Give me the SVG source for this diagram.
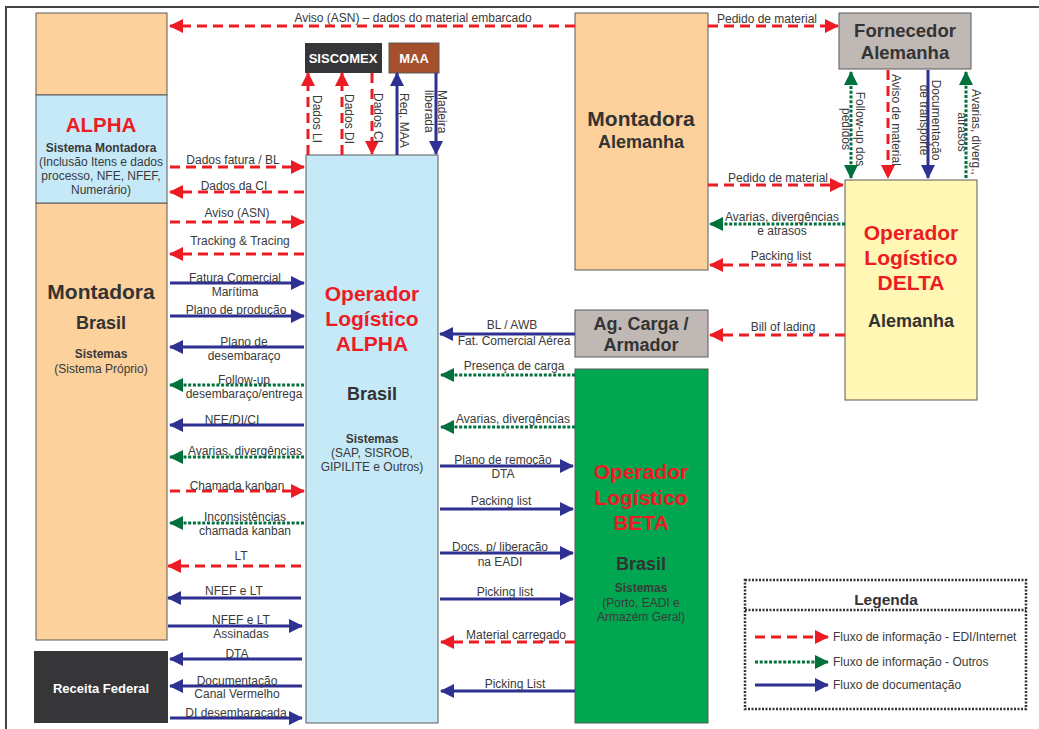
<svg xmlns="http://www.w3.org/2000/svg" width="1039" height="729" viewBox="0 0 1039 729">
<defs>
<style>
.lbl{font-family:"Liberation Sans",Arial,sans-serif;font-size:12px;fill:#3a3a3a;text-anchor:middle}
.vl{font-family:"Liberation Sans",Arial,sans-serif;font-size:12px;fill:#3a3a3a}
.box{stroke:#5a5a5a;stroke-width:1}
.t{font-family:"Liberation Sans",Arial,sans-serif;font-weight:bold;text-anchor:middle;fill:#333}
.red{fill:#ed1c24}
.wt{fill:#fff}
.sm{font-family:"Liberation Sans",Arial,sans-serif;font-size:12px;text-anchor:middle;fill:#3a3a3a}
.smb{font-family:"Liberation Sans",Arial,sans-serif;font-size:12px;font-weight:bold;text-anchor:middle;fill:#3a3a3a}
.r{stroke:#ed1c24;stroke-width:3;stroke-dasharray:10 6;fill:none;marker-end:url(#ar)}
.g{stroke:#00703c;stroke-width:3;stroke-dasharray:3 1.7;fill:none;marker-end:url(#ag)}
.b{stroke:#2e3192;stroke-width:3;fill:none;marker-end:url(#ab)}
</style>
<marker id="ar" viewBox="0 0 14 14" refX="13" refY="7" markerWidth="14" markerHeight="14" markerUnits="userSpaceOnUse" orient="auto-start-reverse"><path d="M0,0 L14,7 L0,14 z" fill="#ed1c24"/></marker>
<marker id="ag" viewBox="0 0 14 14" refX="13" refY="7" markerWidth="14" markerHeight="14" markerUnits="userSpaceOnUse" orient="auto-start-reverse"><path d="M0,0 L14,7 L0,14 z" fill="#00703c"/></marker>
<marker id="ab" viewBox="0 0 14 14" refX="13" refY="7" markerWidth="14" markerHeight="14" markerUnits="userSpaceOnUse" orient="auto-start-reverse"><path d="M0,0 L14,7 L0,14 z" fill="#2e3192"/></marker>
</defs>
<rect width="1039" height="729" fill="#fff"/>
<path d="M6,729 V7 H1039" fill="none" stroke="#444" stroke-width="2"/>

<g id="montadora-brasil">
<rect class="box" x="36" y="13" width="131" height="82" fill="#fcd19c"/>
<rect class="box" x="36" y="203" width="131" height="437" fill="#fcd19c"/>
<text class="t" x="101" y="299" font-size="21">Montadora</text>
<text class="t" x="101" y="329" font-size="18">Brasil</text>
<text class="smb" x="101" y="358">Sistemas</text>
<text class="sm" x="101" y="373">(Sistema Próprio)</text>
</g>
<g id="alpha-sistema">
<rect class="box" x="36" y="95" width="131" height="108" fill="#c6e9f8"/>
<text class="t red" x="101" y="132" font-size="20.5">ALPHA</text>
<text class="smb" x="101" y="152">Sistema Montadora</text>
<text class="sm" x="101" y="166">(Inclusão Itens e dados</text>
<text class="sm" x="101" y="180">processo, NFE, NFEF,</text>
<text class="sm" x="101" y="194">Numerário)</text>
</g>
<g id="receita-federal">
<rect x="34" y="651" width="134" height="72" fill="#363639"/>
<text class="t wt" x="101" y="693" font-size="13">Receita Federal</text>
</g>
<g id="siscomex">
<rect x="305" y="43" width="77" height="30" fill="#363639"/>
<text class="t wt" x="343" y="63" font-size="13">SISCOMEX</text>
</g>
<g id="maa">
<rect x="389" y="43" width="50" height="30" fill="#a54f2c" stroke="#5a5a5a"/>
<text class="t wt" x="414" y="63" font-size="13">MAA</text>
</g>
<g id="operador-alpha">
<rect class="box" x="306" y="155" width="132" height="568" fill="#c6e9f8"/>
<text class="t red" x="372" y="301" font-size="21">Operador</text>
<text class="t red" x="372" y="326" font-size="21">Logístico</text>
<text class="t red" x="372" y="351" font-size="21">ALPHA</text>
<text class="t" x="372" y="400" font-size="18">Brasil</text>
<text class="smb" x="372" y="443">Sistemas</text>
<text class="sm" x="372" y="457">(SAP, SISROB,</text>
<text class="sm" x="372" y="471">GIPILITE e Outros)</text>
</g>
<g id="montadora-alemanha">
<rect class="box" x="575" y="13" width="133" height="257" fill="#fcd19c"/>
<text class="t" x="641" y="126" font-size="21">Montadora</text>
<text class="t" x="641" y="148" font-size="18">Alemanha</text>
</g>
<g id="fornecedor-alemanha">
<rect class="box" x="839" y="13" width="132" height="56" fill="#c0b8b5"/>
<text class="t" x="905" y="37" font-size="18.5">Fornecedor</text>
<text class="t" x="905" y="59" font-size="18.5">Alemanha</text>
</g>
<g id="operador-delta">
<rect class="box" x="845" y="180" width="132" height="220" fill="#fff7b3"/>
<text class="t red" x="911" y="240" font-size="21">Operador</text>
<text class="t red" x="911" y="265" font-size="21">Logístico</text>
<text class="t red" x="911" y="290" font-size="21">DELTA</text>
<text class="t" x="911" y="327" font-size="18">Alemanha</text>
</g>
<g id="ag-carga">
<rect class="box" x="575" y="310" width="133" height="47" fill="#c0b8b5"/>
<text class="t" x="641" y="330" font-size="18">Ag. Carga /</text>
<text class="t" x="641" y="351" font-size="18">Armador</text>
</g>
<g id="operador-beta">
<rect class="box" x="575" y="369" width="133" height="354" fill="#00a650"/>
<text class="t red" x="641" y="479" font-size="21">Operador</text>
<text class="t red" x="641" y="505" font-size="21">Logístico</text>
<text class="t red" x="641" y="530" font-size="21">BETA</text>
<text class="t" x="641" y="570" font-size="18">Brasil</text>
<text class="smb" x="641" y="592">Sistemas</text>
<text class="sm" x="641" y="607">(Porto, EADI e</text>
<text class="sm" x="641" y="621">Armazém Geral)</text>
</g>

<g id="connectors">
<!-- top -->
<line class="r" x1="575" y1="26" x2="170" y2="26"/>
<text class="lbl" x="413" y="22" font-size="13">Aviso (ASN) – dados do material embarcado</text>
<line class="r" x1="708" y1="26" x2="838" y2="26"/>
<text class="lbl" x="767" y="23">Pedido de material</text>
<!-- siscomex / maa verticals -->
<line class="r" x1="308" y1="155" x2="308" y2="73"/>
<text class="vl" transform="translate(313,95) rotate(90)">Dados LI</text>
<line class="r" x1="342" y1="155" x2="342" y2="73"/>
<text class="vl" transform="translate(345,94) rotate(90)">Dados DI</text>
<line class="r" x1="372" y1="73" x2="372" y2="154"/>
<text class="vl" transform="translate(374,93) rotate(90)">Dados CI</text>
<line class="b" x1="397" y1="155" x2="397" y2="73"/>
<text class="vl" transform="translate(400,93) rotate(90)">Req. MAA</text>
<line class="b" x1="436" y1="73" x2="436" y2="154"/>
<text class="vl" transform="translate(438,90) rotate(90)">Madeira<tspan x="0" dy="13">liberada</tspan></text>
<!-- fornecedor verticals -->
<line class="g" x1="851" y1="72" x2="851" y2="178" style="marker-start:url(#ag)"/>
<text class="vl" text-anchor="middle" transform="translate(856,129) rotate(90)">Follow-up dos<tspan x="0" dy="14">pedidos</tspan></text>
<line class="r" x1="888" y1="70" x2="888" y2="178"/>
<text class="vl" transform="translate(892,74) rotate(90)">Aviso de material</text>
<line class="b" x1="928" y1="70" x2="928" y2="178"/>
<text class="vl" text-anchor="middle" transform="translate(932,120) rotate(90)">Documentação<tspan x="0" dy="12">de transporte</tspan></text>
<line class="g" x1="966" y1="178" x2="966" y2="72"/>
<text class="vl" text-anchor="middle" transform="translate(972,132) rotate(90)">Avarias, diverg.,<tspan x="0" dy="14">atrasos</tspan></text>
<!-- right side -->
<line class="r" x1="708" y1="185" x2="843" y2="185"/>
<text class="lbl" x="778" y="182">Pedido de material</text>
<line class="g" x1="845" y1="224" x2="710" y2="224"/>
<text class="lbl" x="782" y="221">Avarias, divergências</text>
<text class="lbl" x="782" y="235">e atrasos</text>
<line class="r" x1="845" y1="265" x2="710" y2="265"/>
<text class="lbl" x="781" y="260">Packing list</text>
<line class="r" x1="845" y1="335" x2="710" y2="335"/>
<text class="lbl" x="783" y="331">Bill of lading</text>
<!-- middle -->
<line class="b" x1="575" y1="334" x2="440" y2="334"/>
<text class="lbl" x="512" y="329">BL / AWB</text>
<text class="lbl" x="514" y="345">Fat. Comercial Aérea</text>
<line class="g" x1="575" y1="375" x2="441" y2="375"/>
<text class="lbl" x="514" y="370">Presença de carga</text>
<line class="g" x1="575" y1="427" x2="441" y2="427"/>
<text class="lbl" x="513" y="423">Avarias, divergências</text>
<line class="b" x1="440" y1="466" x2="573" y2="466"/>
<text class="lbl" x="503" y="464">Plano de remoção</text>
<text class="lbl" x="503" y="478">DTA</text>
<line class="b" x1="440" y1="509" x2="573" y2="509"/>
<text class="lbl" x="501" y="505">Packing list</text>
<line class="b" x1="440" y1="553" x2="573" y2="553"/>
<text class="lbl" x="500" y="551">Docs. p/ liberação</text>
<text class="lbl" x="500" y="566">na EADI</text>
<line class="b" x1="440" y1="599" x2="573" y2="599"/>
<text class="lbl" x="505" y="596">Picking list</text>
<line class="r" x1="575" y1="642" x2="441" y2="642"/>
<text class="lbl" x="516" y="639">Material carregado</text>
<line class="b" x1="575" y1="691" x2="441" y2="691"/>
<text class="lbl" x="515" y="688">Picking List</text>
<!-- left side -->
<line class="r" x1="170" y1="167" x2="304" y2="167"/>
<text class="lbl" x="233" y="164">Dados fatura / BL</text>
<line class="r" x1="304" y1="192" x2="170" y2="192"/>
<text class="lbl" x="234" y="190">Dados da CI</text>
<line class="r" x1="170" y1="222" x2="304" y2="222"/>
<text class="lbl" x="237" y="217">Aviso (ASN)</text>
<line class="r" x1="304" y1="254" x2="170" y2="254"/>
<text class="lbl" x="240" y="245">Tracking &amp; Tracing</text>
<line class="b" x1="170" y1="283" x2="304" y2="283"/>
<text class="lbl" x="235" y="282">Fatura Comercial</text>
<text class="lbl" x="235" y="296">Marítima</text>
<line class="b" x1="170" y1="316" x2="304" y2="316"/>
<text class="lbl" x="236" y="314">Plano de produção</text>
<line class="b" x1="304" y1="347" x2="170" y2="347"/>
<text class="lbl" x="244" y="346">Plano de</text>
<text class="lbl" x="244" y="360">desembaraço</text>
<line class="g" x1="304" y1="385" x2="170" y2="385"/>
<text class="lbl" x="244" y="384">Follow-up</text>
<text class="lbl" x="244" y="398">desembaraço/entrega</text>
<line class="b" x1="304" y1="425" x2="170" y2="425"/>
<text class="lbl" x="232" y="424">NFE/DI/CI</text>
<line class="g" x1="304" y1="457" x2="170" y2="457"/>
<text class="lbl" x="245" y="455">Avarias, divergências</text>
<line class="r" x1="170" y1="491" x2="304" y2="491"/>
<text class="lbl" x="237" y="490">Chamada kanban</text>
<line class="g" x1="304" y1="523" x2="170" y2="523"/>
<text class="lbl" x="245" y="521">Inconsistências</text>
<text class="lbl" x="245" y="535">chamada kanban</text>
<line class="r" x1="301" y1="566" x2="168" y2="566"/>
<text class="lbl" x="241" y="560">LT</text>
<line class="b" x1="301" y1="598" x2="168" y2="598"/>
<text class="lbl" x="234" y="595">NFEF e LT</text>
<line class="b" x1="168" y1="626" x2="302" y2="626"/>
<text class="lbl" x="241" y="624">NFEF e LT</text>
<text class="lbl" x="241" y="638">Assinadas</text>
<line class="b" x1="302" y1="659" x2="170" y2="659"/>
<text class="lbl" x="237" y="658">DTA</text>
<line class="b" x1="302" y1="686" x2="170" y2="686"/>
<text class="lbl" x="237" y="685">Documentação</text>
<text class="lbl" x="237" y="698">Canal Vermelho</text>
<line class="b" x1="170" y1="718" x2="302" y2="718"/>
<text class="lbl" x="236" y="717">DI desembaracada</text>
</g>

<g id="legenda">
<rect x="745" y="580" width="281" height="129" fill="none" stroke="#333" stroke-width="2.5" stroke-dasharray="2 1.5"/>
<line x1="745" y1="610" x2="1026" y2="610" stroke="#333" stroke-width="2.5" stroke-dasharray="2 1.5"/>
<text class="t" x="886" y="605" font-size="15.5">Legenda</text>
<line class="r" x1="755" y1="637" x2="828" y2="637"/>
<text class="vl" x="833" y="641">Fluxo de informação - EDI/Internet</text>
<line class="g" x1="755" y1="662" x2="828" y2="662"/>
<text class="vl" x="833" y="666">Fluxo de informação - Outros</text>
<line class="b" x1="755" y1="685" x2="828" y2="685"/>
<text class="vl" x="833" y="689">Fluxo de documentação</text>
</g>
</svg>
